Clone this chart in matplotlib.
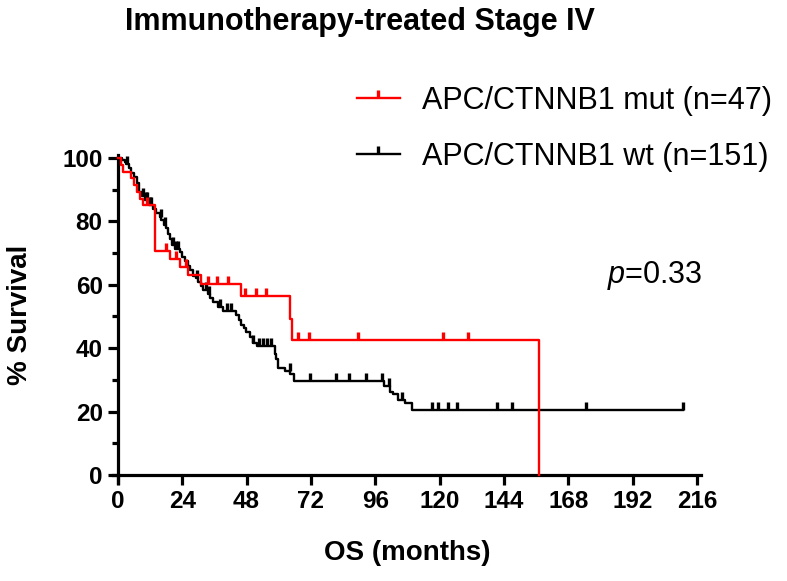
import matplotlib
matplotlib.use("Agg")
import matplotlib.pyplot as plt
import numpy as np
from matplotlib.lines import Line2D

plt.rcParams["font.family"] = ["Liberation Sans", "DejaVu Sans"]
plt.rcParams["mathtext.fontset"] = "custom"
plt.rcParams["mathtext.it"] = "Liberation Sans:italic"
plt.rcParams["mathtext.rm"] = "Liberation Sans"

# %%
# Kaplan-Meier steps (months, % survival)
mut_label = "APC/CTNNB1 mut (n=47)"
mut_times = [0, 1, 2, 5, 6, 7, 8.2, 9.3, 13.7, 19.3, 23.3, 26.1, 31.1, 46.0,
             64.0, 65.0, 157]
mut_surv = [100, 97.9, 95.7, 93.6, 91.5, 89.4, 87.2, 85.1, 70.6, 68.1, 65.6,
            63.0, 60.1, 56.4, 49.1, 42.5, 0]
mut_censor = [10.8, 17.8, 21.5, 25.5, 33.6, 36.9, 41.0, 47.3, 51.6, 55.3,
              67.2, 71.3, 89.6, 121.3, 130.6]

wt_label = "APC/CTNNB1 wt (n=151)"
wt_times = [0, 1.5, 2.5, 3, 4, 5, 6, 7, 8, 9, 10, 11.5, 13, 14.3, 15.5, 16.2,
            17, 17.8, 18.5, 19.3, 20, 21.1, 23, 24, 24.9, 26, 26.7, 28, 29,
            29.9, 31, 31.8, 33.6, 34.5, 35.4, 37.3, 39.2, 44.2, 45, 46, 47,
            47.9, 49.1, 50.4, 52, 58.5, 59, 59.7, 62.4, 64.3, 65.5, 99.2,
            101.6, 102.5, 104.6, 107, 109.6]
wt_surv = [100, 99.3, 98.7, 98.0, 96.7, 95.4, 94.0, 92.0, 89.3, 88.0, 86.6,
           85.3, 84.0, 82.6, 81.5, 80.3, 79.0, 78.0, 76.0, 74.3, 72.5, 71.2,
           70.3, 68.9, 67.5, 66.0, 64.6, 62.8, 62.0, 61.0, 59.5, 58.4, 57.1,
           55.8, 54.4, 53.1, 51.8, 50.4, 49.0, 47.3, 46.2, 45.1, 43.4, 41.6,
           40.7, 38.1, 36.5, 33.7, 32.8, 31.9, 29.6, 28.1, 26.3, 25.4, 23.7,
           22.8, 20.6]
wt_censor = [3.5, 9.5, 10.5, 11, 12, 12.5, 16, 17.5, 20.5, 21.5, 22.5, 29.5,
             33, 34, 38, 40.5, 42, 50.5, 52.5, 54, 55.5, 57, 64, 71.8, 81.5,
             86.1, 92.4, 98.6, 101, 106, 117, 119.5, 123, 126.5, 141.5, 147,
             174.5, 211]

p_text = r"$p$=0.33"
x_ticks = np.arange(0, 217, 24)


def _km(ax, times, surv, censor, color, end):
    t = np.append(times, end)
    s = np.append(surv, surv[-1])
    ax.step(t, s, where="post", color=color, lw=1.7, zorder=3)
    idx = np.searchsorted(times, censor, side="right") - 1
    ax.plot(censor, np.asarray(surv)[idx], ls="none", marker=2, ms=6,
            mew=2.4, color=color, zorder=3)


fig = plt.figure(figsize=(7.87, 5.81), dpi=100)
ax = fig.add_axes([0.1431, 0.1689, 0.7475, 0.5647])

_km(ax, wt_times, wt_surv, wt_censor, "black", wt_censor[-1])
_km(ax, mut_times, mut_surv, mut_censor, "#ff0000", mut_times[-1])

ax.set_xlim(-2, 217.5)
ax.set_ylim(-2.5, 101)
ax.spines["left"].set_position(("data", 0))
ax.spines["bottom"].set_position(("data", 0))
for side in ("top", "right"):
    ax.spines[side].set_visible(False)
for side in ("left", "bottom"):
    ax.spines[side].set_linewidth(2.3)

ax.set_xticks(x_ticks)
ax.set_yticks(np.arange(0, 101, 20))
ax.set_yticks(np.arange(10, 100, 20), minor=True)
ax.tick_params(axis="both", which="major", length=7.5, width=2.3, pad=3.5,
               labelsize=17.5)
ax.tick_params(axis="y", which="minor", length=4.5, width=2.3)
for lab in ax.get_xticklabels() + ax.get_yticklabels():
    lab.set_fontweight("bold")

ax.text(182.5, 63, p_text, fontsize=22, va="center", ha="left")

handles = [Line2D([], [], color="#ff0000", lw=1.7, marker=2, ms=6, mew=2.4),
           Line2D([], [], color="black", lw=1.7, marker=2, ms=6, mew=2.4)]
ax.legend(handles, [mut_label, wt_label], loc="upper left",
          bbox_to_anchor=(0.4536, 0.852), bbox_transform=fig.transFigure,
          frameon=False, fontsize=22, handlelength=1.4, handletextpad=0.72,
          labelspacing=0.85, numpoints=1, borderaxespad=0, borderpad=0)

fig.text(0.457, 0.962, "Immunotherapy-treated Stage IV", ha="center",
         va="center", fontsize=22, fontweight="bold")
fig.text(0.025, 0.458, "% Survival", ha="center", va="center", rotation=90,
         fontsize=20, fontweight="bold")
fig.text(0.518, 0.048, "OS (months)", ha="center", va="center", fontsize=20,
         fontweight="bold")

fig.savefig("out.png", dpi=100)
